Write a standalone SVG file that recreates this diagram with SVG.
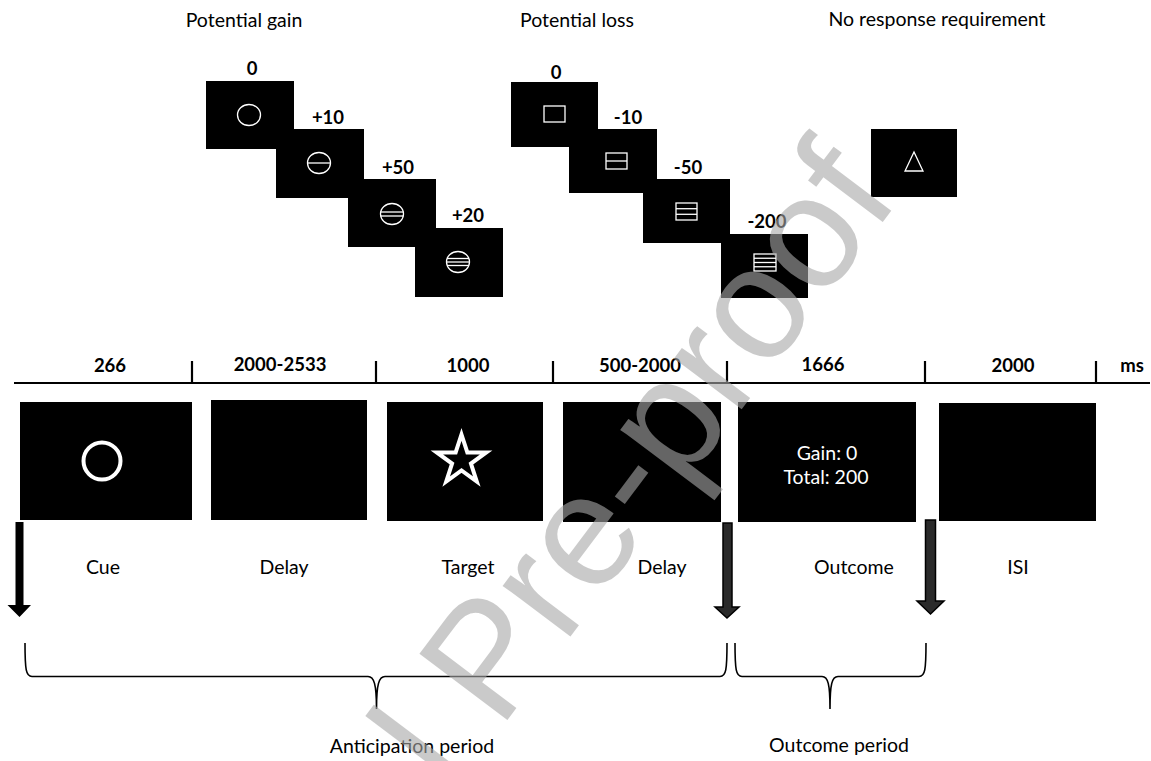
<svg xmlns="http://www.w3.org/2000/svg" width="1151" height="761" viewBox="0 0 1151 761">
<style>
.t{font-family:Lato,"Liberation Sans",sans-serif;font-size:19.5px;fill:#000;text-anchor:middle}
.b{font-family:Lato,"Liberation Sans",sans-serif;font-size:18.5px;font-weight:bold;fill:#000;text-anchor:middle}
.w{font-family:Lato,"Liberation Sans",sans-serif;font-size:19.5px;fill:#fff;text-anchor:middle}
.card{fill:#000}
.cue{fill:none;stroke:#fff;stroke-width:1.3}
.box{fill:#000}
.tl{stroke:#000;stroke-width:2.2;fill:none}
.brace{stroke:#000;stroke-width:1.6;fill:none}
.wm{font-family:"Liberation Sans",sans-serif;font-size:160px;fill:#a8a8a8;opacity:0.6}
</style>
<rect width="1151" height="761" fill="#fff"/>

<text class="t" x="244" y="27">Potential gain</text>
<text class="t" x="577" y="27">Potential loss</text>
<text class="t" x="937" y="26">No response requirement</text>

<g id="gain0"><rect class="card" x="206" y="81" width="88" height="68"/><ellipse class="cue" cx="249" cy="115" rx="11.5" ry="10.5"/><text class="b" x="252" y="75">0</text></g>
<g id="gain10"><rect class="card" x="276" y="129" width="88" height="69"/><ellipse class="cue" cx="319" cy="163" rx="11.5" ry="10.5"/><line class="cue" x1="307.5" y1="163" x2="330.5" y2="163"/><text class="b" x="328" y="124">+10</text></g>
<g id="gain50"><rect class="card" x="348" y="179" width="88" height="68"/><ellipse class="cue" cx="392" cy="214" rx="11.5" ry="10.5"/><line class="cue" x1="380.6" y1="212" x2="403.4" y2="212"/><line class="cue" x1="380.6" y1="216" x2="403.4" y2="216"/><text class="b" x="398" y="174">+50</text></g>
<g id="gain20"><rect class="card" x="415" y="228" width="88" height="69"/><ellipse class="cue" cx="458" cy="262" rx="11.5" ry="10.5"/><line class="cue" x1="447" y1="258.5" x2="469" y2="258.5"/><line class="cue" x1="446.5" y1="262" x2="469.5" y2="262"/><line class="cue" x1="447" y1="265.5" x2="469" y2="265.5"/><text class="b" x="468" y="222">+20</text></g>

<g id="loss0"><rect class="card" x="511" y="82" width="87" height="65"/><rect class="cue" x="544" y="106" width="21" height="16"/><text class="b" x="556" y="79">0</text></g>
<g id="loss10"><rect class="card" x="569" y="129" width="88" height="64"/><rect class="cue" x="606" y="153" width="21" height="16"/><line class="cue" x1="606" y1="161" x2="627" y2="161"/><text class="b" x="628" y="124">-10</text></g>
<g id="loss50"><rect class="card" x="643" y="179" width="87" height="64"/><rect class="cue" x="676" y="203" width="21" height="17"/><line class="cue" x1="676" y1="208.7" x2="697" y2="208.7"/><line class="cue" x1="676" y1="214.3" x2="697" y2="214.3"/><text class="b" x="688" y="174">-50</text></g>
<g id="loss200"><rect class="card" x="721" y="234" width="87" height="64"/><rect class="cue" x="754" y="254" width="22" height="17"/><line class="cue" x1="754" y1="258.25" x2="776" y2="258.25"/><line class="cue" x1="754" y1="262.5" x2="776" y2="262.5"/><line class="cue" x1="754" y1="266.75" x2="776" y2="266.75"/><text class="b" x="767" y="228">-200</text></g>

<g id="noresp"><rect class="card" x="871" y="129" width="86" height="68"/><polygon class="cue" points="914,152 905,171 923,171"/></g>

<g id="timeline">
<line class="tl" x1="14" y1="383" x2="1150" y2="383"/>
<line class="tl" x1="192" y1="361" x2="192" y2="383"/>
<line class="tl" x1="376" y1="361" x2="376" y2="383"/>
<line class="tl" x1="553" y1="361" x2="553" y2="383"/>
<line class="tl" x1="727" y1="361" x2="727" y2="383"/>
<line class="tl" x1="925" y1="361" x2="925" y2="383"/>
<line class="tl" x1="1096" y1="361" x2="1096" y2="383"/>
<text class="b" x="110" y="372">266</text>
<text class="b" x="280" y="371">2000-2533</text>
<text class="b" x="468" y="372">1000</text>
<text class="b" x="640" y="372">500-2000</text>
<text class="b" x="823" y="371">1666</text>
<text class="b" x="1013" y="372">2000</text>
<text class="b" x="1132" y="372">ms</text>
</g>

<g id="cue"><rect class="box" x="20" y="402" width="172" height="118"/><circle cx="102" cy="461" r="18.5" fill="none" stroke="#fff" stroke-width="4"/><text class="t" x="103" y="574">Cue</text></g>
<g id="delay1"><rect class="box" x="211" y="400" width="156" height="120"/><text class="t" x="284" y="574">Delay</text></g>
<g id="target"><rect class="box" x="387" y="402" width="156" height="119"/><polygon points="461.5,434.5 467.34,452.47 486.23,452.47 470.94,463.57 476.78,481.53 461.5,470.43 446.22,481.53 452.06,463.57 436.77,452.47 455.66,452.47" fill="#000" stroke="#fff" stroke-width="4"/><text class="t" x="468" y="574">Target</text></g>
<g id="delay2"><rect class="box" x="563" y="402" width="158" height="120"/><text class="t" x="662" y="574">Delay</text></g>
<g id="outcome"><rect class="box" x="738" y="402" width="178" height="120"/><text class="w" x="827" y="460">Gain: 0</text><text class="w" x="826" y="484">Total: 200</text><text class="t" x="854" y="574">Outcome</text></g>
<g id="isi"><rect class="box" x="939" y="403" width="157" height="118"/><text class="t" x="1018" y="574">ISI</text></g>

<g id="connectors">
<path d="M15.5,522 H23.5 V605 H31 L19.5,617 L7.5,605 H15.5 Z" fill="#000"/>
<path d="M723,523 H732 V607 H739 L727,618 L715,607 H723 Z" fill="#2a2a2a" stroke="#000" stroke-width="1.5"/>
<path d="M925.5,520 H935.5 V601 H944 L930.5,614 L917,601 H925.5 Z" fill="#2a2a2a" stroke="#000" stroke-width="1.5"/>
<path class="brace" d="M25,643 C25,670 26,676.5 32,676.5 L368,676.5 C374,676.5 376.5,684 376.5,709 C376.5,684 379,676.5 385,676.5 L720,676.5 C726,676.5 727,670 727,643"/>
<path class="brace" d="M735,643 C735,670 736,676.5 742,676.5 L822,676.5 C828,676.5 830,684 830,709 C830,684 832,676.5 838,676.5 L919,676.5 C925,676.5 926,670 926,643"/>
</g>

<text class="t" x="412" y="753">Anticipation period</text>
<text class="t" x="839" y="752">Outcome period</text>

<text class="wm" x="157" y="1185" transform="rotate(-53 157 1185)">Journal Pre-proof</text>
</svg>
